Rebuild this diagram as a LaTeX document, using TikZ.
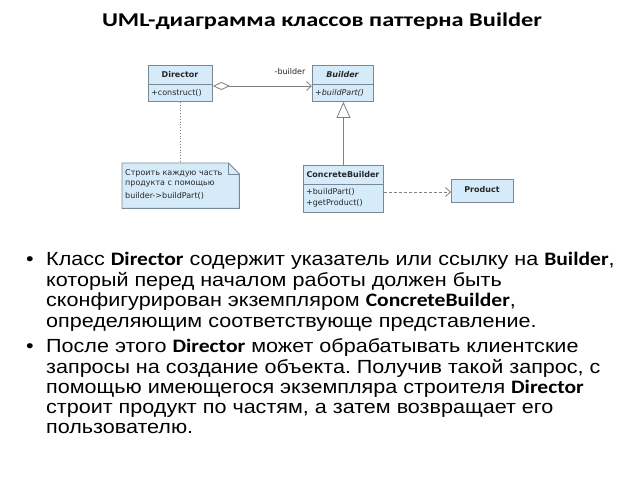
\documentclass[tikz,border=0pt]{standalone}
\usepackage{fontspec}
\usepackage{graphicx}
\setmainfont{Liberation Sans}
\newfontfamily\kwfont{Carlito}
\newfontfamily\umlfont{DejaVu Sans}
\usetikzlibrary{arrows.meta}
\definecolor{clsfill}{HTML}{D6EBFA}
\definecolor{clsdraw}{HTML}{7A8896}
\definecolor{lnk}{HTML}{808080}
\frenchspacing
\newcommand\kw[1]{{\kwfont\bfseries #1}}
\newcommand\bodyline[1]{\scalebox{1.135}[1]{#1}}
\begin{document}
\begin{tikzpicture}[x=1pt,y=-1pt,
  clsbox/.style={draw=clsdraw, fill=clsfill, line width=0.9pt, inner sep=0, anchor=north west},
  umltxt/.style={font=\umlfont\fontsize{8}{9.5}\selectfont, inner sep=0, text=black!85},
  umlhead/.style={umltxt, font=\umlfont\bfseries\fontsize{8}{9.5}\selectfont},
  lnkline/.style={draw=lnk, line width=0.8pt},
  bodytxt/.style={font=\fontsize{19}{22}\selectfont, anchor=base west, inner sep=0},
  titletxt/.style={font=\kwfont\bfseries\fontsize{19.5}{23}\selectfont, anchor=base, inner sep=0}]
\useasboundingbox[fill=white] (0,0) rectangle (640,480);

\node[titletxt] (title) at (322,26) {\scalebox{1.25}[1]{UML-диаграмма классов паттерна Builder}};

% Director
\node[clsbox, minimum width=64pt, minimum height=36pt] (dir) at (148,65) {};
\draw[draw=clsdraw, line width=0.9pt] (dir.west |- 0,84) -- (dir.east |- 0,84);
\node[umlhead] (dirh) at (180,74.5) {Director};
\node[umltxt, anchor=west] (dirm) at (151,92.5) {+construct()};

% Builder
\node[clsbox, minimum width=61pt, minimum height=36pt] (bld) at (312,65) {};
\draw[draw=clsdraw, line width=0.9pt] (bld.west |- 0,84) -- (bld.east |- 0,84);
\node[umlhead, font=\umlfont\bfseries\itshape\fontsize{8}{9.5}\selectfont] (bldh) at (342.5,74.5) {Builder};
\node[umltxt, font=\umlfont\itshape\fontsize{8}{9.5}\selectfont, anchor=west] (bldm) at (315,92.5) {+buildPart()};

% ConcreteBuilder
\node[clsbox, minimum width=80pt, minimum height=47pt] (cb) at (303,165) {};
\draw[draw=clsdraw, line width=0.9pt] (cb.west |- 0,184) -- (cb.east |- 0,184);
\node[umlhead] (cbh) at (343,175) {ConcreteBuilder};
\node[umltxt, anchor=west] (cbm1) at (306,192) {+buildPart()};
\node[umltxt, anchor=west] (cbm2) at (306,203) {+getProduct()};

% Product
\node[clsbox, minimum width=62pt, minimum height=23pt] (prod) at (451,179) {};
\node[umlhead] (prodh) at (482,190) {Product};

% Note
\node[draw=none, inner sep=0, anchor=north west, minimum width=117pt, minimum height=45pt] (note) at (122,163) {};
\draw[draw=clsdraw, fill=clsfill, line width=0.9pt]
  (note.north west) -- ([xshift=-11pt]note.north east) -- ([yshift=-11pt]note.north east)
  -- (note.south east) -- (note.south west) -- cycle;
\draw[draw=clsdraw, line width=0.9pt]
  ([xshift=-11pt]note.north east) -- ([xshift=-11pt,yshift=-11pt]note.north east) -- ([yshift=-11pt]note.north east);
\node[umltxt, anchor=west] (nt1) at (125,173) {Строить каждую часть};
\node[umltxt, anchor=west] (nt2) at (125,184.5) {продукта с помощью};
\node[umltxt, anchor=west] (nt3) at (125,196) {builder->buildPart()};

% Connectors
\draw[lnkline, {Diamond[open, fill=white, length=17pt, width=8pt]}-{Straight Barb[length=5pt, width=9pt]}]
  (dir.east |- 0,86) -- (bld.west |- 0,86);
\node[umltxt] (lblb) at (290,72) {-builder};
\draw[lnkline, dotted] (dir.south) -- (dir.south |- note.north);
\draw[lnkline, -{Triangle[open, fill=white, length=16pt, width=14pt]}] (cb.north) -- (cb.north |- bld.south);
\draw[lnkline, densely dashed, -{Straight Barb[length=5pt, width=9pt]}] (cb.east |- 0,192) -- (prod.west |- 0,192);

% Body text
\node[bodytxt] (bu1) at (26,265) {\bodyline{•}};
\node[bodytxt] (l1) at (46,265) {\bodyline{Класс \kw{Director} содержит указатель или ссылку на \kw{Builder},}};
\node[bodytxt] (l2) at (46,286) {\bodyline{который перед началом работы должен быть}};
\node[bodytxt] (l3) at (46,306) {\bodyline{сконфигурирован экземпляром \kw{ConcreteBuilder},}};
\node[bodytxt] (l4) at (46,327) {\bodyline{определяющим соответствующе представление.}};
\node[bodytxt] (bu2) at (26,352) {\bodyline{•}};
\node[bodytxt] (l5) at (46,352) {\bodyline{После этого \kw{Director} может обрабатывать клиентские}};
\node[bodytxt] (l6) at (46,373) {\bodyline{запросы на создание объекта. Получив такой запрос, с}};
\node[bodytxt] (l7) at (46,393) {\bodyline{помощью имеющегося экземпляра строителя \kw{Director}}};
\node[bodytxt] (l8) at (46,413) {\bodyline{строит продукт по частям, а затем возвращает его}};
\node[bodytxt] (l9) at (46,433) {\bodyline{пользователю.}};
\end{tikzpicture}
\end{document}
